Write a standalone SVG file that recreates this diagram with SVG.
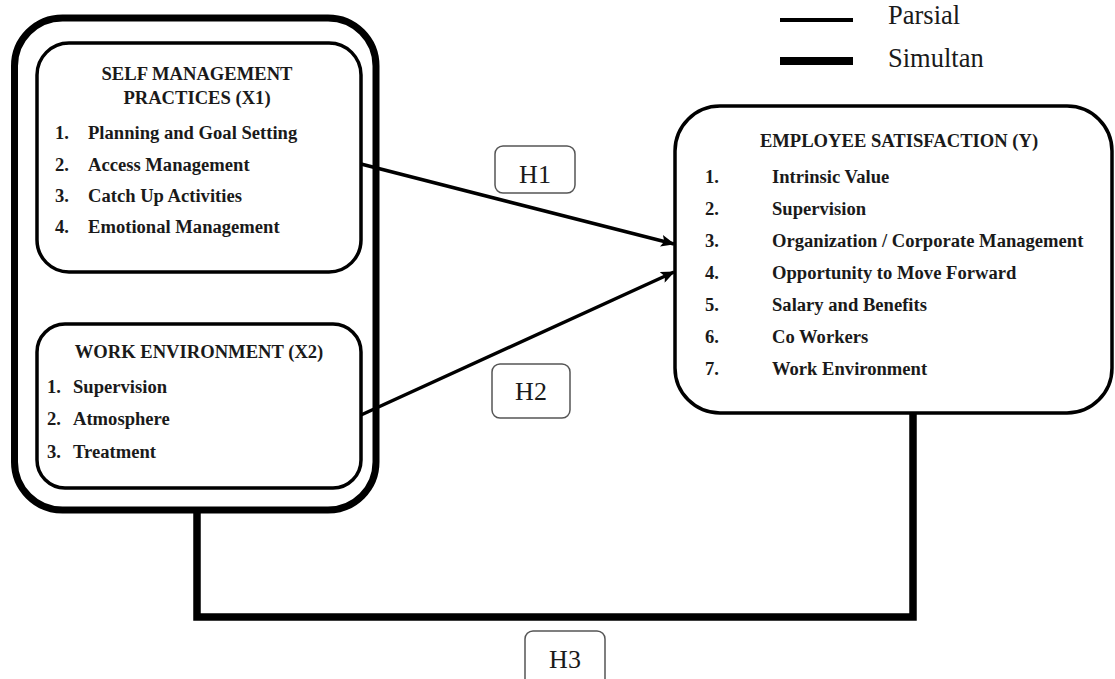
<svg xmlns="http://www.w3.org/2000/svg" width="1115" height="679" viewBox="0 0 1115 679">
<style>
.t{font-family:'Liberation Serif','DejaVu Serif',serif;font-weight:bold;font-size:18.6px;fill:#1a1a1a}
.c{text-anchor:middle}
.h{font-family:'Liberation Serif','DejaVu Serif',serif;font-size:26px;fill:#1a1a1a;text-anchor:middle}
.lg{font-family:'Liberation Serif','DejaVu Serif',serif;font-size:26.5px;fill:#1a1a1a}
.box{fill:none;stroke:#000;stroke-width:3.5}
.hb{fill:#fff;stroke:#555;stroke-width:1.5}
.thin{fill:none;stroke:#000;stroke-width:3.5}
.thick{fill:none;stroke:#000;stroke-width:7.5}
</style>
<defs>
<marker id="ah" markerUnits="userSpaceOnUse" markerWidth="14" markerHeight="12" refX="13" refY="6" orient="auto">
<path d="M0,0 L14,6 L0,12 L3,6 Z" fill="#000"/>
</marker>
</defs>
<g id="legend">
<line x1="780" y1="20" x2="853" y2="20" stroke="#000" stroke-width="4"/>
<line x1="780" y1="61" x2="853" y2="61" stroke="#000" stroke-width="8"/>
<text class="lg" x="888" y="24">Parsial</text>
<text class="lg" x="888" y="67">Simultan</text>
</g>
<g id="connectors">
<path class="thick" d="M197,513 V617 H913 V413"/>
<line class="thin" x1="361" y1="164" x2="674" y2="244" marker-end="url(#ah)"/>
<line class="thin" x1="361" y1="415" x2="674" y2="272" marker-end="url(#ah)"/>
</g>
<g id="group-x">
<rect x="14.5" y="18" width="361.5" height="492" rx="48" ry="48" fill="none" stroke="#000" stroke-width="7"/>
</g>
<g id="x1">
<rect class="box" x="37" y="43" width="324" height="229" rx="32" ry="32" fill="#fff"/>
<text class="t c" x="197" y="80">SELF MANAGEMENT</text>
<text class="t c" x="197" y="104">PRACTICES (X1)</text>
<text class="t" x="55" y="139">1.</text><text class="t" x="88" y="139">Planning and Goal Setting</text>
<text class="t" x="55" y="171">2.</text><text class="t" x="88" y="171">Access Management</text>
<text class="t" x="55" y="202">3.</text><text class="t" x="88" y="202">Catch Up Activities</text>
<text class="t" x="55" y="233">4.</text><text class="t" x="88" y="233">Emotional Management</text>
</g>
<g id="x2">
<rect class="box" x="37" y="324" width="324" height="164" rx="28" ry="28" fill="#fff"/>
<text class="t c" x="199" y="358">WORK ENVIRONMENT (X2)</text>
<text class="t" x="47" y="393">1.</text><text class="t" x="73" y="393">Supervision</text>
<text class="t" x="47" y="425">2.</text><text class="t" x="73" y="425">Atmosphere</text>
<text class="t" x="47" y="458">3.</text><text class="t" x="73" y="458">Treatment</text>
</g>
<g id="y">
<rect class="box" x="675" y="106" width="437" height="307" rx="45" ry="45" fill="#fff"/>
<text class="t c" x="899" y="147">EMPLOYEE SATISFACTION (Y)</text>
<text class="t" x="705" y="183">1.</text><text class="t" x="772" y="183">Intrinsic Value</text>
<text class="t" x="705" y="215">2.</text><text class="t" x="772" y="215">Supervision</text>
<text class="t" x="705" y="247">3.</text><text class="t" x="772" y="247">Organization / Corporate Management</text>
<text class="t" x="705" y="279">4.</text><text class="t" x="772" y="279">Opportunity to Move Forward</text>
<text class="t" x="705" y="311">5.</text><text class="t" x="772" y="311">Salary and Benefits</text>
<text class="t" x="705" y="343">6.</text><text class="t" x="772" y="343">Co Workers</text>
<text class="t" x="705" y="375">7.</text><text class="t" x="772" y="375">Work Environment</text>
</g>
<g id="h1">
<rect class="hb" x="495" y="146" width="80" height="47" rx="8" ry="8"/>
<text class="h" x="535" y="183">H1</text>
</g>
<g id="h2">
<rect class="hb" x="492" y="364" width="78" height="54" rx="8" ry="8"/>
<text class="h" x="531" y="400">H2</text>
</g>
<g id="h3">
<rect class="hb" x="525" y="631" width="80" height="60" rx="8" ry="8"/>
<text class="h" x="565" y="668">H3</text>
</g>
</svg>
